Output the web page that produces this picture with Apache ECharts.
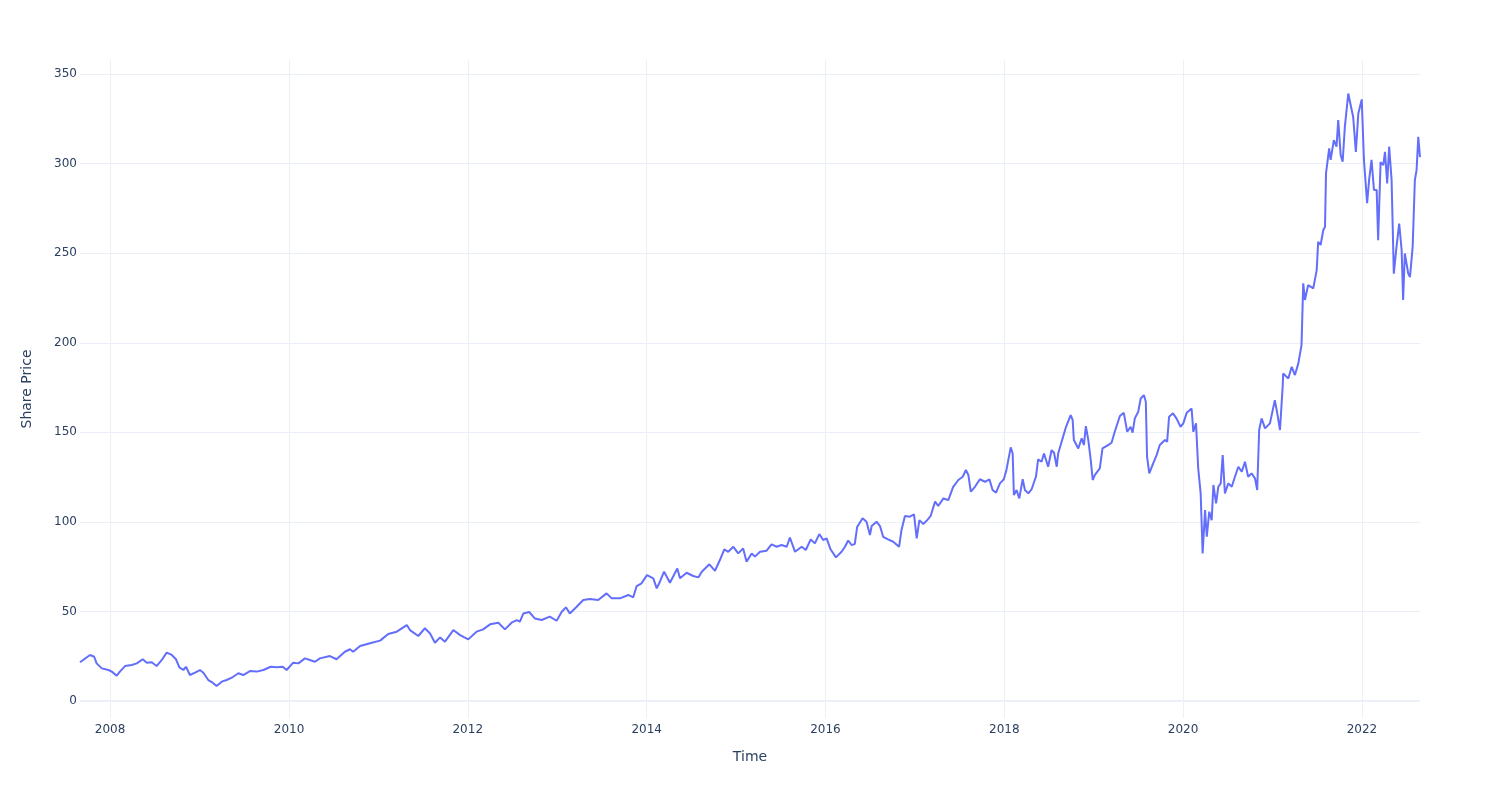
<!DOCTYPE html>
<html>
<head>
<meta charset="utf-8">
<script src="https://cdn.jsdelivr.net/npm/echarts@6/dist/echarts.min.js"></script>
<style>html,body{margin:0;padding:0;background:#fff}#c{width:1500px;height:800px}</style>
</head>
<body>
<div id="c"></div>
<script>
const dates = [
'2007-08-31','2007-10-11','2007-10-28','2007-11-07','2007-11-28','2007-12-25',
'2008-01-08','2008-01-28','2008-02-10','2008-03-02','2008-03-29','2008-04-19','2008-05-13','2008-05-30','2008-06-19','2008-07-09','2008-07-30','2008-08-19','2008-09-09','2008-09-26','2008-10-10','2008-10-26','2008-11-06','2008-11-22','2008-12-13',
'2009-01-02','2009-01-16','2009-02-05','2009-02-23','2009-03-11','2009-04-01','2009-04-21','2009-05-12','2009-06-08','2009-06-28','2009-07-25','2009-08-22','2009-09-18','2009-10-18','2009-11-11','2009-12-06','2009-12-22',
'2010-01-18','2010-02-08','2010-03-07','2010-03-27','2010-04-17','2010-05-07','2010-06-04','2010-06-17','2010-07-14','2010-08-17','2010-09-07','2010-09-20','2010-10-18','2010-11-28',
'2011-01-08','2011-02-10','2011-03-17','2011-04-27','2011-05-10','2011-06-13','2011-07-10','2011-07-31','2011-08-20','2011-09-10','2011-09-30','2011-11-03','2011-12-01',
'2012-01-03','2012-02-06','2012-03-04','2012-04-01','2012-05-05','2012-06-01','2012-06-28','2012-07-19','2012-08-01','2012-08-15','2012-09-08','2012-10-01','2012-10-29','2012-12-01','2012-12-29',
'2013-01-19','2013-02-05','2013-02-21','2013-03-21','2013-04-17','2013-05-14','2013-06-17','2013-07-21','2013-08-11','2013-09-14','2013-10-18','2013-11-07','2013-11-21','2013-12-11',
'2014-01-02','2014-01-28','2014-02-11','2014-02-24','2014-03-13','2014-04-06','2014-05-06','2014-05-17','2014-06-13','2014-07-10','2014-07-31','2014-08-14','2014-09-14','2014-10-07','2014-10-27','2014-11-14','2014-11-30','2014-12-21',
'2015-01-10','2015-01-30','2015-02-13','2015-03-06','2015-03-19','2015-04-09','2015-05-06','2015-05-26','2015-06-16','2015-07-06','2015-07-27','2015-08-09','2015-08-30','2015-09-26','2015-10-13','2015-11-02','2015-11-19','2015-12-07','2015-12-23',
'2016-01-06','2016-01-22','2016-02-13','2016-03-07','2016-03-21','2016-04-03','2016-04-17','2016-04-30','2016-05-10','2016-06-01','2016-06-17','2016-07-01','2016-07-08','2016-07-28','2016-08-11','2016-08-24','2016-09-13','2016-10-04','2016-10-28','2016-11-07','2016-11-21','2016-12-11','2016-12-28',
'2017-01-08','2017-01-19','2017-02-04','2017-02-20','2017-03-06','2017-03-24','2017-04-06','2017-04-27','2017-05-17','2017-06-06','2017-06-27','2017-07-15','2017-07-28','2017-08-07','2017-08-17','2017-09-03','2017-09-23','2017-10-14','2017-11-01','2017-11-14','2017-11-28','2017-12-14','2017-12-30',
'2018-01-10','2018-01-27','2018-02-04','2018-02-09','2018-02-20','2018-03-03','2018-03-17','2018-03-26','2018-04-09','2018-04-22','2018-05-10','2018-05-19','2018-06-02','2018-06-12','2018-06-29','2018-07-13','2018-07-23','2018-08-03','2018-08-09','2018-08-23','2018-09-10','2018-09-29','2018-10-07','2018-10-12','2018-10-30','2018-11-13','2018-11-22','2018-11-30','2018-12-10','2018-12-20','2018-12-28',
'2019-01-06','2019-01-26','2019-02-06','2019-03-01','2019-03-15','2019-03-28','2019-04-18','2019-05-04','2019-05-18','2019-06-01','2019-06-09','2019-06-18','2019-07-02','2019-07-12','2019-07-25','2019-08-02','2019-08-07','2019-08-16','2019-09-01','2019-09-15','2019-09-28','2019-10-19','2019-10-28','2019-11-05','2019-11-21','2019-12-05','2019-12-22',
'2020-01-02','2020-01-16','2020-02-05','2020-02-12','2020-02-23','2020-03-03','2020-03-13','2020-03-21','2020-03-31','2020-04-07','2020-04-17','2020-04-27','2020-05-04','2020-05-15','2020-05-24','2020-06-03','2020-06-11','2020-06-20','2020-07-04','2020-07-18','2020-07-31','2020-08-14','2020-08-28','2020-09-10','2020-09-23','2020-10-07','2020-10-21','2020-10-30','2020-11-07','2020-11-17','2020-12-01','2020-12-21',
'2021-01-10','2021-01-20','2021-01-31','2021-02-11','2021-02-13','2021-03-06','2021-03-20','2021-04-02','2021-04-16','2021-04-29','2021-05-06','2021-05-13','2021-05-26','2021-06-16','2021-06-30','2021-07-06','2021-07-16','2021-07-27','2021-08-03','2021-08-07','2021-08-20','2021-08-26','2021-09-08','2021-09-19','2021-09-26','2021-10-06','2021-10-14','2021-10-23','2021-11-06','2021-11-16','2021-11-26','2021-12-07','2021-12-17','2021-12-31',
'2022-01-09','2022-01-22','2022-01-30','2022-02-09','2022-02-19','2022-03-02','2022-03-08','2022-03-18','2022-03-29','2022-04-05','2022-04-14','2022-04-22','2022-05-02','2022-05-11','2022-05-22','2022-06-02','2022-06-12','2022-06-18','2022-06-25','2022-07-09','2022-07-16','2022-07-27','2022-08-05','2022-08-12','2022-08-19','2022-08-26'
];
const prices = [
21.6,25.7,24.7,21.0,18.2,17.3,
16.4,14.1,16.4,19.5,20.1,21.0,23.3,21.4,21.6,19.5,22.9,27.0,25.7,23.3,18.8,17.3,19.1,14.5,15.8,
17.3,15.8,11.7,10.2,8.4,10.8,11.7,13.0,15.5,14.5,16.7,16.4,17.3,19.1,18.8,19.1,17.3,
21.4,21.0,23.8,22.9,21.9,23.8,24.7,25.1,23.3,27.5,28.9,27.5,30.7,32.2,
33.7,37.4,38.7,42.4,39.6,36.3,40.6,37.7,32.5,35.5,33.1,39.6,36.8,
34.4,38.7,40.0,42.8,43.7,40.0,43.7,45.2,44.3,48.8,49.7,46.1,45.2,47.1,44.8,
49.8,52.3,48.9,52.6,56.4,57.0,56.4,60.1,57.3,57.3,59.2,57.9,64.2,65.7,
70.3,68.5,62.9,66.6,72.2,66.0,74.0,68.5,71.6,69.8,69.0,72.2,76.3,72.7,78.7,84.7,83.3,86.1,
82.4,85.2,77.8,82.4,80.6,83.3,83.9,87.4,86.1,87.1,86.1,91.3,83.3,86.1,84.3,90.2,88.0,93.2,89.9,
90.8,84.7,80.2,83.3,86.1,89.6,87.1,87.6,97.3,102.0,100.1,92.7,97.7,100.1,97.7,91.7,90.2,88.9,86.1,95.5,103.3,102.9,104.2,
90.8,101.0,98.8,101.0,103.3,111.3,108.9,113.1,112.2,119.6,123.4,125.2,129.0,126.2,116.9,119.6,123.8,122.4,123.8,117.8,116.3,121.5,123.8,
129.3,141.6,138.2,115.0,117.8,113.1,123.8,117.8,115.9,118.1,125.2,134.9,133.6,138.2,130.8,140.1,138.6,130.8,138.2,144.7,153.1,159.6,156.9,145.7,141.0,146.6,142.9,153.5,145.7,134.5,123.4,
126.2,129.9,141.0,142.9,144.2,150.3,159.1,160.9,150.3,153.1,149.8,157.8,161.5,168.9,170.8,167.1,136.4,127.1,132.7,137.3,142.9,145.7,144.7,158.7,160.6,157.8,153.1,
155.0,160.9,163.3,150.3,155.0,129.9,115.9,82.4,106.6,91.7,105.7,101.0,120.6,110.3,119.6,121.5,137.3,115.9,121.5,119.6,125.2,130.8,128.0,133.6,125.2,127.1,124.3,117.8,151.3,157.8,152.2,155.0,
168.0,160.6,151.3,175.5,182.9,180.1,186.6,182.0,188.5,198.7,233.2,223.9,232.2,230.4,240.6,256.4,254.6,263.0,264.8,294.6,308.6,302.1,313.2,309.5,324.3,304.8,301.1,320.6,339.2,332.6,326.1,306.6,328.0,335.9,
302.1,277.9,290.8,302.1,285.3,285.3,257.3,300.9,299.2,306.6,289.0,309.5,290.8,238.6,253.6,266.6,251.8,223.9,249.9,238.6,236.7,253.6,290.8,296.4,315.0,303.7
];
const yTicks = [0, 50, 100, 150, 200, 250, 300, 350];
const xTickLabels = ['2008', '2010', '2012', '2014', '2016', '2018', '2020', '2022'];

function toTs(s) {
  const p = String(s).split('-');
  return new Date(+p[0], (+(p[1] || 1)) - 1, +(p[2] || 1)).getTime();
}
const xTickValues = xTickLabels.map(function (y) { return toTs(y); });
const seriesData = dates.map(function (d, i) { return [toTs(d), prices[i]]; });
const xMin = toTs(dates[0]);
const xMax = toTs(dates[dates.length - 1]);

const txt = '#2a3f5f';
const grid = '#EBF0F8';
const font = 'DejaVu Sans';

const chart = echarts.init(document.getElementById('c'), null, { renderer: 'canvas' });
chart.setOption({
  animation: false,
  backgroundColor: '#ffffff',
  textStyle: { fontFamily: font },
  grid: { left: 80, right: 80, top: 60, bottom: 82, containLabel: false },
  xAxis: {
    type: 'value',
    min: xMin,
    max: xMax,
    name: 'Time',
    nameLocation: 'middle',
    nameGap: 32,
    nameTextStyle: { color: txt, fontSize: 14, fontFamily: font },
    axisLine: { show: false },
    axisTick: { show: false },
    splitLine: { show: false },
    axisLabel: {
      customValues: xTickValues,
      showMinLabel: true,
      showMaxLabel: true,
      color: txt, fontSize: 12, fontFamily: font, margin: 6,
      formatter: function (v) {
        const i = xTickValues.indexOf(v);
        return i >= 0 ? xTickLabels[i] : '';
      }
    }
  },
  yAxis: {
    type: 'value',
    min: -9.5,
    max: 357.9,
    name: 'Share Price',
    nameLocation: 'middle',
    nameGap: 46,
    nameTextStyle: { color: txt, fontSize: 14, fontFamily: font },
    axisLine: { show: false },
    axisTick: { show: false },
    splitLine: { show: false },
    axisLabel: {
      customValues: yTicks,
      color: txt, fontSize: 12, fontFamily: font, margin: 3
    }
  },
  series: [
    {
      type: 'line',
      data: [],
      z: 0,
      silent: true,
      markLine: {
        z: 0,
        silent: true,
        symbol: ['none', 'none'],
        label: { show: false },
        animation: false,
        data: yTicks.map(function (v) {
          return { yAxis: v, lineStyle: { color: grid, width: v === 0 ? 2 : 1, type: 'solid' } };
        }).concat(xTickValues.map(function (v) {
          return { xAxis: v, lineStyle: { color: grid, width: 1, type: 'solid' } };
        }))
      }
    },
    {
      type: 'line',
      data: seriesData,
      z: 5,
      showSymbol: false,
      symbol: 'none',
      lineStyle: { color: '#636efa', width: 2 },
      itemStyle: { color: '#636efa' }
    }
  ]
});
</script>
</body>
</html>
